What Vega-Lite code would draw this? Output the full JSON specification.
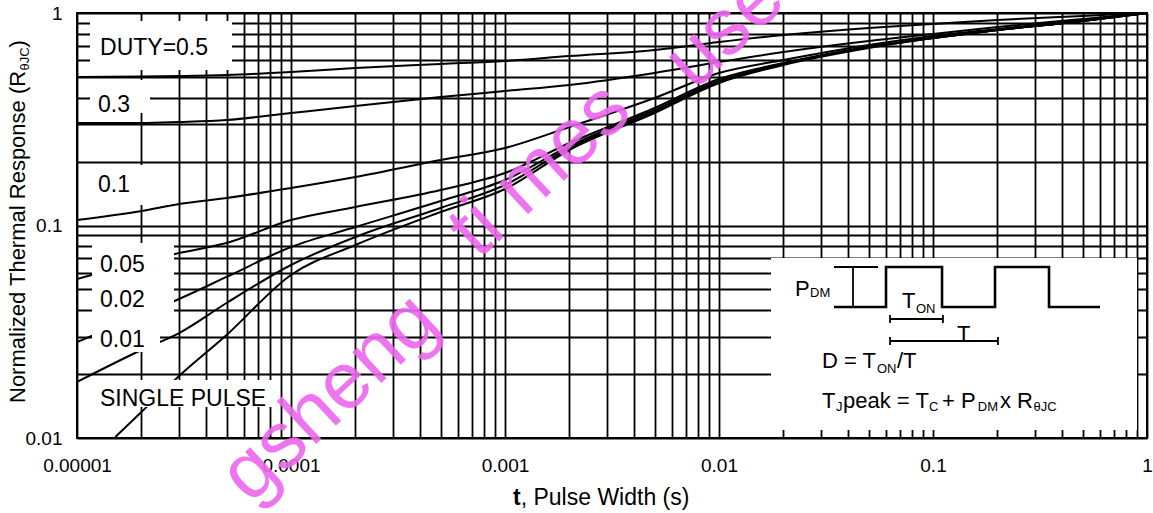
{
  "$schema": "https://vega.github.io/schema/vega-lite/v6.json",
  "width": 1070,
  "height": 425,
  "autosize": {"type": "none"},
  "padding": {"left": 77, "top": 13, "right": 6, "bottom": 75},
  "background": "white",
  "config": {
    "view": {"stroke": "black", "strokeWidth": 2},
    "axis": {"gridColor": "black", "gridWidth": 1.8, "gridOpacity": 1, "ticks": false, "domain": false, "labelFont": "Liberation Sans", "titleFont": "Liberation Sans", "labelColor": "black", "titleColor": "black", "titleFontWeight": "normal", "labelOverlap": false, "labelFlush": false, "labelBound": false},
    "text": {"font": "Liberation Sans", "color": "black"}
  },
  "datasets": {
    "curves": [
      {"duty": "0.5", "x": 0.00001, "y": 0.5}, {"duty": "0.5", "x": 0.00002, "y": 0.5026}, {"duty": "0.5", "x": 0.00003, "y": 0.5053}, {"duty": "0.5", "x": 0.00005, "y": 0.5108}, {"duty": "0.5", "x": 0.0001, "y": 0.5277}, {"duty": "0.5", "x": 0.0002, "y": 0.5511}, {"duty": "0.5", "x": 0.0005, "y": 0.5754}, {"duty": "0.5", "x": 0.001, "y": 0.5944}, {"duty": "0.5", "x": 0.002, "y": 0.6275}, {"duty": "0.5", "x": 0.005, "y": 0.6697}, {"duty": "0.5", "x": 0.01, "y": 0.7304}, {"duty": "0.5", "x": 0.02, "y": 0.7879}, {"duty": "0.5", "x": 0.05, "y": 0.8502}, {"duty": "0.5", "x": 0.1, "y": 0.8876}, {"duty": "0.5", "x": 0.2, "y": 0.927}, {"duty": "0.5", "x": 0.5, "y": 0.968}, {"duty": "0.5", "x": 1, "y": 1},
      {"duty": "0.3", "x": 0.00001, "y": 0.3036}, {"duty": "0.3", "x": 0.00002, "y": 0.3036}, {"duty": "0.3", "x": 0.00003, "y": 0.3069}, {"duty": "0.3", "x": 0.00005, "y": 0.3136}, {"duty": "0.3", "x": 0.0001, "y": 0.3384}, {"duty": "0.3", "x": 0.0002, "y": 0.365}, {"duty": "0.3", "x": 0.0005, "y": 0.4025}, {"duty": "0.3", "x": 0.001, "y": 0.4295}, {"duty": "0.3", "x": 0.002, "y": 0.4583}, {"duty": "0.3", "x": 0.005, "y": 0.522}, {"duty": "0.3", "x": 0.01, "y": 0.588}, {"duty": "0.3", "x": 0.02, "y": 0.6553}, {"duty": "0.3", "x": 0.05, "y": 0.7383}, {"duty": "0.3", "x": 0.1, "y": 0.7964}, {"duty": "0.3", "x": 0.2, "y": 0.8594}, {"duty": "0.3", "x": 0.5, "y": 0.9371}, {"duty": "0.3", "x": 1, "y": 1},
      {"duty": "0.1", "x": 0.00001, "y": 0.1061}, {"duty": "0.1", "x": 0.00002, "y": 0.117}, {"duty": "0.1", "x": 0.00003, "y": 0.1262}, {"duty": "0.1", "x": 0.00005, "y": 0.1347}, {"duty": "0.1", "x": 0.0001, "y": 0.1501}, {"duty": "0.1", "x": 0.0002, "y": 0.1691}, {"duty": "0.1", "x": 0.0005, "y": 0.2033}, {"duty": "0.1", "x": 0.001, "y": 0.2316}, {"duty": "0.1", "x": 0.002, "y": 0.2907}, {"duty": "0.1", "x": 0.005, "y": 0.3981}, {"duty": "0.1", "x": 0.01, "y": 0.522}, {"duty": "0.1", "x": 0.02, "y": 0.6009}, {"duty": "0.1", "x": 0.05, "y": 0.707}, {"duty": "0.1", "x": 0.1, "y": 0.7794}, {"duty": "0.1", "x": 0.2, "y": 0.841}, {"duty": "0.1", "x": 0.5, "y": 0.927}, {"duty": "0.1", "x": 1, "y": 1},
      {"duty": "0.05", "x": 0.00001, "y": 0.05603}, {"duty": "0.05", "x": 0.00002, "y": 0.06734}, {"duty": "0.05", "x": 0.00003, "y": 0.07424}, {"duty": "0.05", "x": 0.00005, "y": 0.08272}, {"duty": "0.05", "x": 0.0001, "y": 0.1061}, {"duty": "0.05", "x": 0.0002, "y": 0.1222}, {"duty": "0.05", "x": 0.0005, "y": 0.1469}, {"duty": "0.05", "x": 0.001, "y": 0.1766}, {"duty": "0.05", "x": 0.002, "y": 0.2445}, {"duty": "0.05", "x": 0.005, "y": 0.3572}, {"duty": "0.05", "x": 0.01, "y": 0.4892}, {"duty": "0.05", "x": 0.02, "y": 0.5817}, {"duty": "0.05", "x": 0.05, "y": 0.6918}, {"duty": "0.05", "x": 0.1, "y": 0.7627}, {"duty": "0.05", "x": 0.2, "y": 0.8318}, {"duty": "0.05", "x": 0.5, "y": 0.917}, {"duty": "0.05", "x": 1, "y": 1},
      {"duty": "0.02", "x": 0.00001, "y": 0.0283}, {"duty": "0.02", "x": 0.00002, "y": 0.03792}, {"duty": "0.02", "x": 0.00003, "y": 0.0451}, {"duty": "0.02", "x": 0.00005, "y": 0.05726}, {"duty": "0.02", "x": 0.0001, "y": 0.07921}, {"duty": "0.02", "x": 0.0002, "y": 0.09839}, {"duty": "0.02", "x": 0.0005, "y": 0.1304}, {"duty": "0.02", "x": 0.001, "y": 0.1637}, {"duty": "0.02", "x": 0.002, "y": 0.2367}, {"duty": "0.02", "x": 0.005, "y": 0.3495}, {"duty": "0.02", "x": 0.01, "y": 0.4786}, {"duty": "0.02", "x": 0.02, "y": 0.5754}, {"duty": "0.02", "x": 0.05, "y": 0.6918}, {"duty": "0.02", "x": 0.1, "y": 0.7627}, {"duty": "0.02", "x": 0.2, "y": 0.8318}, {"duty": "0.02", "x": 0.5, "y": 0.917}, {"duty": "0.02", "x": 1, "y": 1},
      {"duty": "0.01", "x": 0.00001, "y": 0.01835}, {"duty": "0.01", "x": 0.00002, "y": 0.02595}, {"duty": "0.01", "x": 0.00003, "y": 0.03119}, {"duty": "0.01", "x": 0.00005, "y": 0.04319}, {"duty": "0.01", "x": 0.0001, "y": 0.06519}, {"duty": "0.01", "x": 0.0002, "y": 0.08829}, {"duty": "0.01", "x": 0.0005, "y": 0.1209}, {"duty": "0.01", "x": 0.001, "y": 0.1551}, {"duty": "0.01", "x": 0.002, "y": 0.2316}, {"duty": "0.01", "x": 0.005, "y": 0.342}, {"duty": "0.01", "x": 0.01, "y": 0.4734}, {"duty": "0.01", "x": 0.02, "y": 0.5754}, {"duty": "0.01", "x": 0.05, "y": 0.6918}, {"duty": "0.01", "x": 0.1, "y": 0.7627}, {"duty": "0.01", "x": 0.2, "y": 0.8318}, {"duty": "0.01", "x": 0.5, "y": 0.917}, {"duty": "0.01", "x": 1, "y": 1},
      {"duty": "single", "x": 0.0000151, "y": 0.01011}, {"duty": "single", "x": 0.00002, "y": 0.01326}, {"duty": "single", "x": 0.00003, "y": 0.01957}, {"duty": "single", "x": 0.00005, "y": 0.03053}, {"duty": "single", "x": 0.0001, "y": 0.05851}, {"duty": "single", "x": 0.0002, "y": 0.08095}, {"duty": "single", "x": 0.0005, "y": 0.1157}, {"duty": "single", "x": 0.001, "y": 0.1485}, {"duty": "single", "x": 0.002, "y": 0.2266}, {"duty": "single", "x": 0.005, "y": 0.3384}, {"duty": "single", "x": 0.01, "y": 0.4683}, {"duty": "single", "x": 0.02, "y": 0.5692}, {"duty": "single", "x": 0.05, "y": 0.6844}, {"duty": "single", "x": 0.1, "y": 0.7627}, {"duty": "single", "x": 0.2, "y": 0.8318}, {"duty": "single", "x": 0.5, "y": 0.917}, {"duty": "single", "x": 1, "y": 1}
    ],
    "boxes": [
      {"name": "duty05", "x": 0.0000115, "x2": 0.00005302, "y": 0.917, "y2": 0.5391},
      {"name": "duty03", "x": 0.0000115, "x2": 0.00002194, "y": 0.4839, "y2": 0.3384},
      {"name": "duty01", "x": 0.00001126, "x2": 0.0000272, "y": 0.1926, "y2": 0.1249},
      {"name": "duty005", "x": 0.00001175, "x2": 0.0000284, "y": 0.08272, "y2": 0.03671},
      {"name": "duty001", "x": 0.00001175, "x2": 0.00002443, "y": 0.03671, "y2": 0.0254},
      {"name": "single", "x": 0.00001175, "x2": 0.00008507, "y": 0.01875, "y2": 0.01399},
      {"name": "inset", "x": 0.0175, "x2": 0.8981, "y": 0.07033, "y2": 0.0109}
    ],
    "labels": [
      {"x": 0.00001281, "y": 0.6342, "txt": "DUTY=0.5"},
      {"x": 0.00001254, "y": 0.342, "txt": "0.3"},
      {"x": 0.00001254, "y": 0.1438, "txt": "0.1"},
      {"x": 0.00001281, "y": 0.06041, "txt": "0.05"},
      {"x": 0.00001281, "y": 0.04134, "txt": "0.02"},
      {"x": 0.00001281, "y": 0.02681, "txt": "0.01"},
      {"x": 0.00001281, "y": 0.01414, "txt": "SINGLE PULSE"}
    ],
    "wave": [
      {"i": 1, "x": 0.03447, "y": 0.04134}, {"i": 2, "x": 0.06032, "y": 0.04134}, {"i": 3, "x": 0.06032, "y": 0.06378}, {"i": 4, "x": 0.1102, "y": 0.06378}, {"i": 5, "x": 0.1102, "y": 0.04134}, {"i": 6, "x": 0.1949, "y": 0.04134}, {"i": 7, "x": 0.1949, "y": 0.06378}, {"i": 8, "x": 0.3484, "y": 0.06378}, {"i": 9, "x": 0.3484, "y": 0.04134}, {"i": 10, "x": 0.6032, "y": 0.04134}
    ],
    "rules": [
      {"x": 0.03447, "x2": 0.05534, "y": 0.06378, "y2": 0.06378},
      {"x": 0.04229, "x2": 0.04229, "y": 0.06378, "y2": 0.04134},
      {"x": 0.06297, "x2": 0.1113, "y": 0.03631, "y2": 0.03631},
      {"x": 0.06297, "x2": 0.06297, "y": 0.03792, "y2": 0.03477},
      {"x": 0.1113, "x2": 0.1113, "y": 0.03792, "y2": 0.03477},
      {"x": 0.06297, "x2": 0.2012, "y": 0.02861, "y2": 0.02861},
      {"x": 0.06297, "x2": 0.06297, "y": 0.02987, "y2": 0.0274},
      {"x": 0.2012, "x2": 0.2012, "y": 0.02987, "y2": 0.0274}
    ],
    "bigtext": [
      {"x": 0.02265, "y": 0.04659, "txt": "P"},
      {"x": 0.07164, "y": 0.0409, "txt": "T"},
      {"x": 0.1294, "y": 0.02861, "txt": "T"},
      {"x": 0.0303, "y": 0.02136, "txt": "D = T"},
      {"x": 0.06789, "y": 0.02136, "txt": "/T"},
      {"x": 0.0303, "y": 0.01384, "txt": "T"},
      {"x": 0.03797, "y": 0.01384, "txt": "peak = T"},
      {"x": 0.1102, "y": 0.01384, "txt": "+ P"},
      {"x": 0.2056, "y": 0.01384, "txt": "x R"}
    ],
    "smalltext": [
      {"x": 0.02662, "y": 0.04608, "txt": "DM"},
      {"x": 0.08329, "y": 0.03875, "txt": "ON"},
      {"x": 0.05474, "y": 0.02022, "txt": "ON"},
      {"x": 0.03522, "y": 0.0134, "txt": "J"},
      {"x": 0.09579, "y": 0.0134, "txt": "C"},
      {"x": 0.1619, "y": 0.0134, "txt": "DM"},
      {"x": 0.2949, "y": 0.0134, "txt": "θJC"}
    ],
    "ytitle": [
      {"x": 0.000005715, "y": 0.01461, "txt": "Normalized Thermal Response (R"},
      {"x": 0.000005715, "y": 0.6882, "txt": ")"}
    ],
    "ytitlesub": [
      {"x": 0.000005968, "y": 0.5363, "txt": "θJC"}
    ],
    "xtitlebold": [
      {"x": 0.00109, "y": 0.004838, "txt": "t"}
    ],
    "xtitle": [
      {"x": 0.001184, "y": 0.004838, "txt": "\u00a0, Pulse Width (s)"}
    ],
    "watermark": [
      {"x": 0.0001521, "y": 0.01542, "txt": "gsheng"},
      {"x": 0.001458, "y": 0.1825, "txt": "ti mes"},
      {"x": 0.01067, "y": 0.8318, "txt": "use"}
    ]
  },
  "encoding": {
    "x": {"field": "x", "type": "quantitative", "scale": {"type": "log", "domain": [0.00001, 1]},
      "axis": {"values": [0.00001,0.00002,0.00003,0.00004,0.00005,0.00006,0.00007,0.00008,0.00009,0.0001,0.0002,0.0003,0.0004,0.0005,0.0006,0.0007,0.0008,0.0009,0.001,0.002,0.003,0.004,0.005,0.006,0.007,0.008,0.009,0.01,0.02,0.03,0.04,0.05,0.06,0.07,0.08,0.09,0.1,0.2,0.3,0.4,0.5,0.6,0.7,0.8,0.9,1],
        "labelExpr": "datum.value == 0.00001 ? '0.00001' : datum.value == 0.0001 ? '0.0001' : datum.value == 0.001 ? '0.001' : datum.value == 0.01 ? '0.01' : datum.value == 0.1 ? '0.1' : datum.value == 1 ? '1' : ''",
        "labelFontSize": 19, "labelPadding": 18, "title": null}},
    "y": {"field": "y", "type": "quantitative", "scale": {"type": "log", "domain": [0.01, 1]},
      "axis": {"values": [0.01,0.02,0.03,0.04,0.05,0.06,0.07,0.08,0.09,0.1,0.2,0.3,0.4,0.5,0.6,0.7,0.8,0.9,1],
        "labelExpr": "datum.value == 0.01 ? '0.01' : datum.value == 0.1 ? '0.1' : datum.value == 1 ? '1' : ''",
        "labelFontSize": 19, "labelPadding": 15, "title": null}}
  },
  "layer": [
    {"data": {"name": "curves"}, "mark": {"type": "line", "color": "black", "strokeWidth": 2, "interpolate": "monotone", "clip": true},
     "encoding": {"detail": {"field": "duty", "type": "nominal"}}},
    {"data": {"name": "boxes"}, "mark": {"type": "rect", "fill": "white", "stroke": null},
     "encoding": {"x2": {"field": "x2"}, "y2": {"field": "y2"}}},
    {"data": {"name": "labels"}, "mark": {"type": "text", "align": "left", "baseline": "alphabetic", "fontSize": 23},
     "encoding": {"text": {"field": "txt"}}},
    {"data": {"name": "wave"}, "mark": {"type": "line", "color": "black", "strokeWidth": 2.6},
     "encoding": {"order": {"field": "i", "type": "quantitative"}}},
    {"data": {"name": "rules"}, "mark": {"type": "rule", "color": "black", "strokeWidth": 1.8},
     "encoding": {"x2": {"field": "x2"}, "y2": {"field": "y2"}}},
    {"data": {"name": "bigtext"}, "mark": {"type": "text", "align": "left", "baseline": "alphabetic", "fontSize": 22},
     "encoding": {"text": {"field": "txt"}}},
    {"data": {"name": "smalltext"}, "mark": {"type": "text", "align": "left", "baseline": "alphabetic", "fontSize": 13},
     "encoding": {"text": {"field": "txt"}}},
    {"data": {"name": "ytitle"}, "mark": {"type": "text", "align": "left", "baseline": "alphabetic", "fontSize": 22, "angle": -90},
     "encoding": {"text": {"field": "txt"}}},
    {"data": {"name": "ytitlesub"}, "mark": {"type": "text", "align": "left", "baseline": "alphabetic", "fontSize": 13, "angle": -90},
     "encoding": {"text": {"field": "txt"}}},
    {"data": {"name": "xtitlebold"}, "mark": {"type": "text", "align": "left", "baseline": "alphabetic", "fontSize": 23, "fontWeight": "bold"},
     "encoding": {"text": {"field": "txt"}}},
    {"data": {"name": "xtitle"}, "mark": {"type": "text", "align": "left", "baseline": "alphabetic", "fontSize": 23},
     "encoding": {"text": {"field": "txt"}}},
    {"data": {"name": "watermark"}, "mark": {"type": "text", "align": "center", "baseline": "middle", "fontSize": 80, "angle": -43, "color": "#ee66ee", "opacity": 0.9},
     "encoding": {"text": {"field": "txt"}}}
  ]
}
